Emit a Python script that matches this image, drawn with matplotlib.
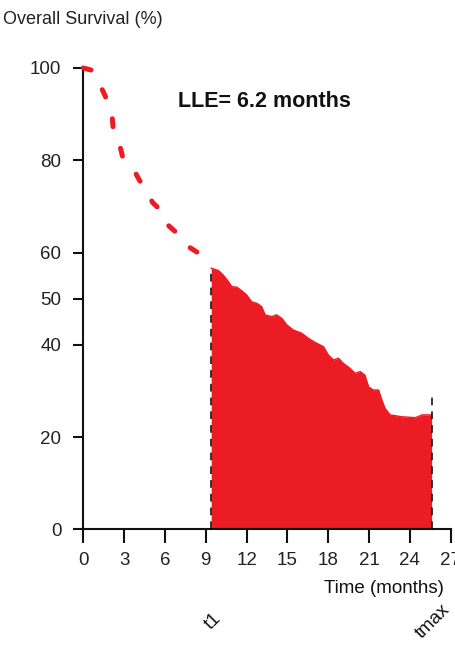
import matplotlib
matplotlib.use("Agg")
import matplotlib.pyplot as plt

# Kaplan-Meier estimate before the landmark time t1 (drawn dashed)
early_time = [0, 0.65, 1.2, 1.6, 2.1, 2.2, 2.7, 2.9, 3.7, 4.1, 4.7, 5.1,
              5.9, 6.2, 7.0, 7.5, 8.4, 9.1, 9.4]
early_surv = [100, 99.5, 96.5, 94.0, 90.3, 86.6, 83.0, 80.6, 78.0, 75.8,
              73.0, 70.8, 68.6, 66.0, 63.9, 61.7, 60.0, 58.5, 57.0]

# Kaplan-Meier estimate between t1 and tmax (area under it shaded)
late_time = [9.4, 9.93, 10.29, 10.66, 10.91, 11.28, 11.65, 12.0, 12.38,
             12.75, 13.1, 13.36, 13.85, 14.2, 14.6, 14.96, 15.44, 16.06,
             16.54, 17.04, 17.65, 18.0, 18.4, 18.75, 19.1, 19.6, 19.98,
             20.35, 20.7, 20.96, 21.3, 21.7, 21.94, 22.18, 22.55, 23.4,
             24.4, 24.9, 25.6]
late_surv = [56.6, 56.1, 55.1, 53.7, 52.6, 52.5, 51.7, 50.8, 49.3,
             49.0, 48.3, 46.5, 46.1, 46.5, 45.7, 44.3, 43.2, 42.5,
             41.4, 40.5, 39.6, 37.8, 36.7, 37.1, 36.0, 34.9, 33.8,
             34.2, 33.4, 30.9, 30.2, 30.2, 28.0, 26.2, 24.8, 24.4,
             24.2, 24.8, 24.8]

t1 = 9.4
tmax = 25.6
tmax_marker_top = 29.8
lle_months = 6.2

x_ticks = [0, 3, 6, 9, 12, 15, 18, 21, 24, 27]
y_ticks = [0, 20, 40, 50, 60, 80, 100]

RED = "#EC1C24"
INK = "#222222"

plt.rcParams["font.family"] = ["Liberation Sans", "DejaVu Sans"]

W, H = 455, 646
fig = plt.figure(figsize=(W / 100, H / 100), dpi=100)
ax = fig.add_axes([83.3 / W, (H - 529.3) / H, 367.4 / W, 461.3 / H])
ax.set_xlim(0, 27)
ax.set_ylim(0, 100)

# shaded area under the curve from t1 to tmax
ax.fill_between(late_time, late_surv, 0, color=RED, linewidth=0, zorder=2)
ax.plot(late_time, late_surv, color=RED, linewidth=1.0, zorder=2)

# dashed curve before t1
ax.plot(early_time, early_surv, color=RED, linewidth=3.6,
        linestyle=(0, (1.6, 4.6)), dash_capstyle="round",
        solid_capstyle="round", clip_on=False, zorder=3)

# vertical markers at t1 and tmax
ax.plot([t1, t1], [0, late_surv[0]], color="black", linewidth=1.1,
        linestyle=(0, (5, 4)), zorder=4)
ax.plot([tmax, tmax], [0, tmax_marker_top], color="black", linewidth=1.1,
        linestyle=(0, (5, 4)), zorder=4)

for side in ("top", "right"):
    ax.spines[side].set_visible(False)
for side in ("left", "bottom"):
    ax.spines[side].set_linewidth(1.5)
    ax.spines[side].set_color("#111111")

ax.set_xticks(x_ticks)
ax.set_yticks(y_ticks)
ax.tick_params(axis="x", length=10, width=1.5, pad=6.5, labelsize=13.5,
               labelcolor=INK, color="#111111")
ax.tick_params(axis="y", length=7.2, width=1.5, pad=8.5, labelsize=13.5,
               labelcolor=INK, color="#111111")

ax.text(13.3, 91.5, f"LLE= {lle_months} months", ha="center",
        va="baseline", fontsize=15.5, fontweight="bold", color="#111111")

fig.text(3 / W, 1 - 19 / H, "Overall Survival (%)", ha="left",
         va="center", fontsize=13, color=INK)
fig.text(384 / W, 1 - 593 / H, "Time (months)", ha="center",
         va="baseline", fontsize=13.5, color="#111111")

for pos, label in ((t1, "t1"), (tmax, "tmax")):
    ax.text(pos + 0.1, -20, label, ha="center", va="center", rotation=45,
            rotation_mode="anchor", fontsize=13.5, color="#111111",
            clip_on=False)

fig.savefig("out.png", dpi=100)
